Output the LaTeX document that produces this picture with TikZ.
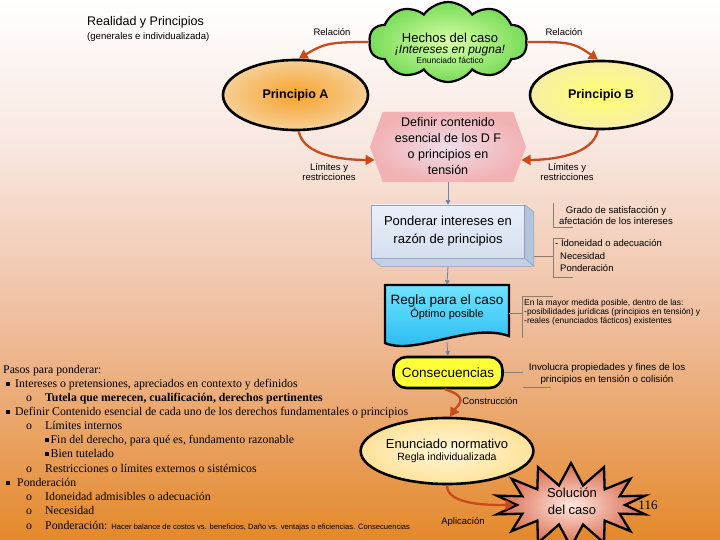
\documentclass[tikz,border=0pt]{standalone}
\usepackage{fontspec}
\setmainfont{Liberation Sans}
\newfontfamily\seriffont{Liberation Serif}
\usetikzlibrary{shapes.geometric,shapes.symbols,shapes.misc,arrows.meta}
\definecolor{bg0}{HTML}{FFFFFF}
\definecolor{bg1}{HTML}{F8E6DE}
\definecolor{bg2}{HTML}{EFBE9F}
\definecolor{bg3}{HTML}{E4892A}
\definecolor{relred}{HTML}{C94A1C}
\definecolor{flowc}{HTML}{6B84A8}
\definecolor{brc}{HTML}{8C7B70}
\definecolor{orin}{HTML}{F7A22B}
\definecolor{orout}{HTML}{F6CF95}
\definecolor{yelin}{HTML}{FFFF70}
\definecolor{yelout}{HTML}{F7EFA5}
\definecolor{cloudin}{HTML}{D8FFA8}
\definecolor{cloudout}{HTML}{78DC58}
\definecolor{hexin}{HTML}{EEDCEA}
\definecolor{hexout}{HTML}{F2B2B4}
\definecolor{pondtop}{HTML}{EAF0FA}
\definecolor{pondbot}{HTML}{D3DEEE}
\definecolor{pondside}{HTML}{B4C4DC}
\definecolor{pondbtm}{HTML}{C4D0E4}
\definecolor{pondline}{HTML}{8FA0C0}
\definecolor{cyantop}{HTML}{70E4FF}
\definecolor{cyanbot}{HTML}{22B6F0}
\definecolor{yellowc}{HTML}{FFFF38}
\definecolor{enin}{HTML}{FFF6D8}
\definecolor{enout}{HTML}{FFE29A}
\definecolor{solin}{HTML}{FFE8E0}
\definecolor{solout}{HTML}{D9684A}
\newcommand\setfs[2]{\fontsize{#1}{#2}\selectfont}
\newcommand\sqbul{\rule[1.5pt]{3.5pt}{3.5pt}}
\begin{document}
\begin{tikzpicture}[x=1pt,y=-1pt,
  relarrow/.style={draw=relred,line width=2.3pt,-{Triangle[length=9pt,width=10pt]}},
  flowarr/.style={draw=flowc,line width=0.8pt,-{Triangle[length=4.5pt,width=4.5pt]}},
  brline/.style={draw=brc,line width=0.7pt},
  lbl/.style={inner sep=0,align=center,font=\setfs{9.5}{10.5}},
  annot/.style={inner sep=0,align=left,anchor=west,font=\setfs{9.5}{11}},
  blackborder/.style={draw=black,line width=2.6pt},
  lt/.style={anchor=base west,inner sep=0,font=\seriffont\setfs{11.8}{13}},
]
\useasboundingbox (0,0) rectangle (720,540);
% background
\shade[top color=bg0,bottom color=bg1] (0,0) rectangle (720,150.5);
\shade[top color=bg1,bottom color=bg2] (0,150) rectangle (720,320.5);
\shade[top color=bg2,bottom color=bg3] (0,320) rectangle (720,540);

% title
\node[inner sep=0,anchor=west,font=\setfs{12.5}{14}] (title) at (87,22) {Realidad y Principios};
\node[inner sep=0,anchor=west,font=\setfs{9.6}{11}] (subtitle) at (87,37) {(generales e individualizada)};

% cloud
\node[cloud,cloud puffs=10,cloud puff arc=110,aspect=2.1,draw=black,line width=2.2pt,
  inner color=cloudin,outer color=cloudout,minimum width=158pt,minimum height=80pt,inner sep=0pt] (hechos) at (448,42) {};
\node[inner sep=0,align=center] (hechostxt) at (450,48)
  {{\setfs{13}{15}Hechos del caso}\\[-1pt]{\setfs{12}{15}\itshape ¡Intereses en pugna!}\\[-2pt]{\setfs{8.5}{11}Enunciado fáctico}};

% principles
\node[ellipse,blackborder,inner color=orin,outer color=orout,minimum width=145pt,minimum height=70pt,
  inner sep=0pt,font=\bfseries\setfs{12.5}{14}] (pa) at (295.5,95) {Principio A};
\node[ellipse,blackborder,inner color=yelin,outer color=yelout,minimum width=142pt,minimum height=68pt,
  inner sep=0pt,font=\bfseries\setfs{12.5}{14}] (pb) at (601,95) {Principio B};

% hexagon
\node[signal,signal to=east and west,signal pointer angle=140,draw=none,
  inner color=hexin,outer color=hexout,minimum width=156pt,minimum height=70pt,inner sep=0pt] (hex) at (448,147) {};
\node[inner sep=0,align=center,font=\setfs{12.5}{16}] (hextxt) at (448,146)
  {Definir contenido\\esencial de los D F\\o principios en\\tensión};

% ponderar box
\node[rectangle,draw=pondline,line width=0.5pt,top color=pondtop,bottom color=pondbot,
  minimum width=153pt,minimum height=53pt,inner sep=0pt] (pond) at (448,231.5) {};
\filldraw[draw=pondline,line width=0.5pt,fill=pondside] (pond.north east) -- ++(9,7) -- ++(0,54) -- (pond.south east) -- cycle;
\filldraw[draw=pondline,line width=0.5pt,fill=pondbtm] (pond.south west) -- (pond.south east) -- ++(9,8) -- ++(-153,0) -- cycle;
\node[inner sep=0,align=center,font=\setfs{13}{18}] (pondtxt) at (448,231) {Ponderar intereses en\\razón de principios};

% regla (document shape)
\filldraw[blackborder,line width=2.4pt,top color=cyantop,bottom color=cyanbot]
  (385,285) -- (509,285) -- (509,336) .. controls (470,322) and (415,356) .. (385,343) -- cycle;
\node[minimum width=124pt,minimum height=57pt,inner sep=0pt] (regla) at (447,313.5) {};
\node[inner sep=0,align=center] (reglatxt) at (447,307)
  {{\setfs{13.5}{15}Regla para el caso}\\{\setfs{11}{13}Óptimo posible}};

% consecuencias
\node[rectangle,rounded corners=13pt,blackborder,fill=yellowc,minimum width=109pt,minimum height=31pt,
  inner sep=0pt,font=\setfs{13.5}{15}] (conse) at (448,372.5) {Consecuencias};

% enunciado normativo
\node[ellipse,blackborder,inner color=enin,outer color=enout,minimum width=140pt,minimum height=66pt,
  inner sep=0pt,align=center] (en) at (447,451)
  {{\setfs{13}{15}Enunciado normativo}\\{\setfs{10.5}{13}Regla individualizada}};

% solucion
\node[starburst,starburst points=14,starburst point height=22pt,random starburst=0,draw=black,line width=2.3pt,
  inner color=solin,outer color=solout,minimum width=152pt,minimum height=84pt,inner sep=0pt] (sol) at (571,505) {};
\node[inner sep=0,align=center,font=\setfs{13}{17}] (soltxt) at (572,501) {Solución\\del caso};
\node[inner sep=0,font=\seriffont\setfs{13}{15}] (pagenum) at (648,505) {116};

% relation arrows
\draw[relarrow] (hechos.180) .. controls +(-40,0) and +(25,-15) .. (pa.85);
\draw[relarrow] (hechos.0) .. controls +(40,0) and +(-25,-18) .. (pb.95);
\node[lbl] (rel1) at (332,32) {Relación};
\node[lbl] (rel2) at (564,32) {Relación};
\draw[relarrow] (pa.-85) .. controls +(5,25) and +(-30,0) .. (hex.190);
\draw[relarrow] (pb.-95) .. controls +(-5,25) and +(30,0) .. (hex.-10);
\node[lbl] (lim1) at (329,172) {Límites y\\restricciones};
\node[lbl] (lim2) at (567,172) {Límites y\\restricciones};
\draw[relarrow] (conse.-100) .. controls +(25,8) and +(8,-12) .. (en.85);
\node[lbl] (constr) at (490,401) {Construcción};
\draw[relarrow] (en.-90) .. controls +(0,20) and +(-25,0) .. (sol.west);
\node[lbl] (aplic) at (463,522) {Aplicación};

% flow arrows
\draw[flowarr] (hex.south) -- (pond.north);
\draw[flowarr] ([yshift=-8pt]pond.south) -- (regla.north);
\draw[flowarr] (regla.south) -- (conse.north);

% brackets and annotations
\coordinate (b1t) at (553,203);
\coordinate (b1b) at (553,227);
\draw[brline] (b1t) -- (b1b) -- ([xshift=20pt]b1b);
\node[inner sep=0,align=center,font=\setfs{9.6}{11}] (grado) at (616,216) {Grado de satisfacción y\\afectación de los intereses};
\coordinate (b2t) at (553,238);
\coordinate (b2b) at (553,277);
\coordinate (b2m) at (553,256);
\coordinate (pondside) at (533.5,256);
\draw[brline] ([xshift=12pt]b2t) -- (b2t) -- (b2b) -- ([xshift=20pt]b2b);
\draw[brline] (pondside) -- (b2m);
\node[annot] (idon) at (555,243) {- Idoneidad o adecuación};
\node[annot] (nece) at (560,256) {Necesidad};
\node[annot] (pond2) at (560,268) {Ponderación};

\coordinate (b3t) at (522,296);
\coordinate (b3b) at (522,338);
\coordinate (b3m) at (522,313.5);
\draw[brline] ([xshift=31pt]b3t) -- (b3t) -- (b3b);
\draw[brline] (regla.east) -- (b3m);
\node[inner sep=0,align=left,anchor=north west,font=\setfs{8.4}{9}] (mayor) at (524,299)
  {En la mayor medida posible, dentro de las:\\-posibilidades jurídicas (principios en tensión) y\\-reales (enunciados fácticos) existentes};

\coordinate (b4m) at (523,372.5);
\coordinate (b4b) at (523,387);
\draw[brline] (conse.east) -- (b4m);
\draw[brline] (b4b) -- ([xshift=28pt]b4b);
\node[inner sep=0,align=center,font=\setfs{9.8}{12}] (involucra) at (607,374) {Involucra propiedades y fines de los\\principios en tensión o colisión};

% left text block
\node[lt] (l1) at (3,373) {Pasos para ponderar:};
\node[lt] (l2b) at (6,387) {\sqbul};
\node[lt] (l2) at (15,387) {Intereses o pretensiones, apreciados en contexto y definidos};
\node[lt] (l3b) at (26,401) {o};
\node[lt] (l3) at (45,401) {\bfseries Tutela que merecen, cualificación, derechos pertinentes};
\node[lt] (l4b) at (6,415) {\sqbul};
\node[lt] (l4) at (15,415) {Definir Contenido esencial de cada uno de los derechos fundamentales o principios};
\node[lt] (l5b) at (26,429) {o};
\node[lt] (l5) at (45,429) {Límites internos};
\node[lt] (l6) at (45,443) {\sqbul\,Fin del derecho, para qué es, fundamento razonable};
\node[lt] (l7) at (45,457) {\sqbul\,Bien tutelado};
\node[lt] (l8b) at (26,472) {o};
\node[lt] (l8) at (45,472) {Restricciones o límites externos o sistémicos};
\node[lt] (l9b) at (6,486) {\sqbul};
\node[lt] (l9) at (17,486) {Ponderación};
\node[lt] (l10b) at (26,500) {o};
\node[lt] (l10) at (45,500) {Idoneidad admisibles o adecuación};
\node[lt] (l11b) at (26,514) {o};
\node[lt] (l11) at (45,514) {Necesidad};
\node[lt] (l12b) at (26,529) {o};
\node[lt] (l12) at (45,529) {Ponderación: {\rmfamily\setfs{7.6}{9}Hacer balance de costos vs. beneficios, Daño vs. ventajas o eficiencias. Consecuencias}};
\end{tikzpicture}
\end{document}
